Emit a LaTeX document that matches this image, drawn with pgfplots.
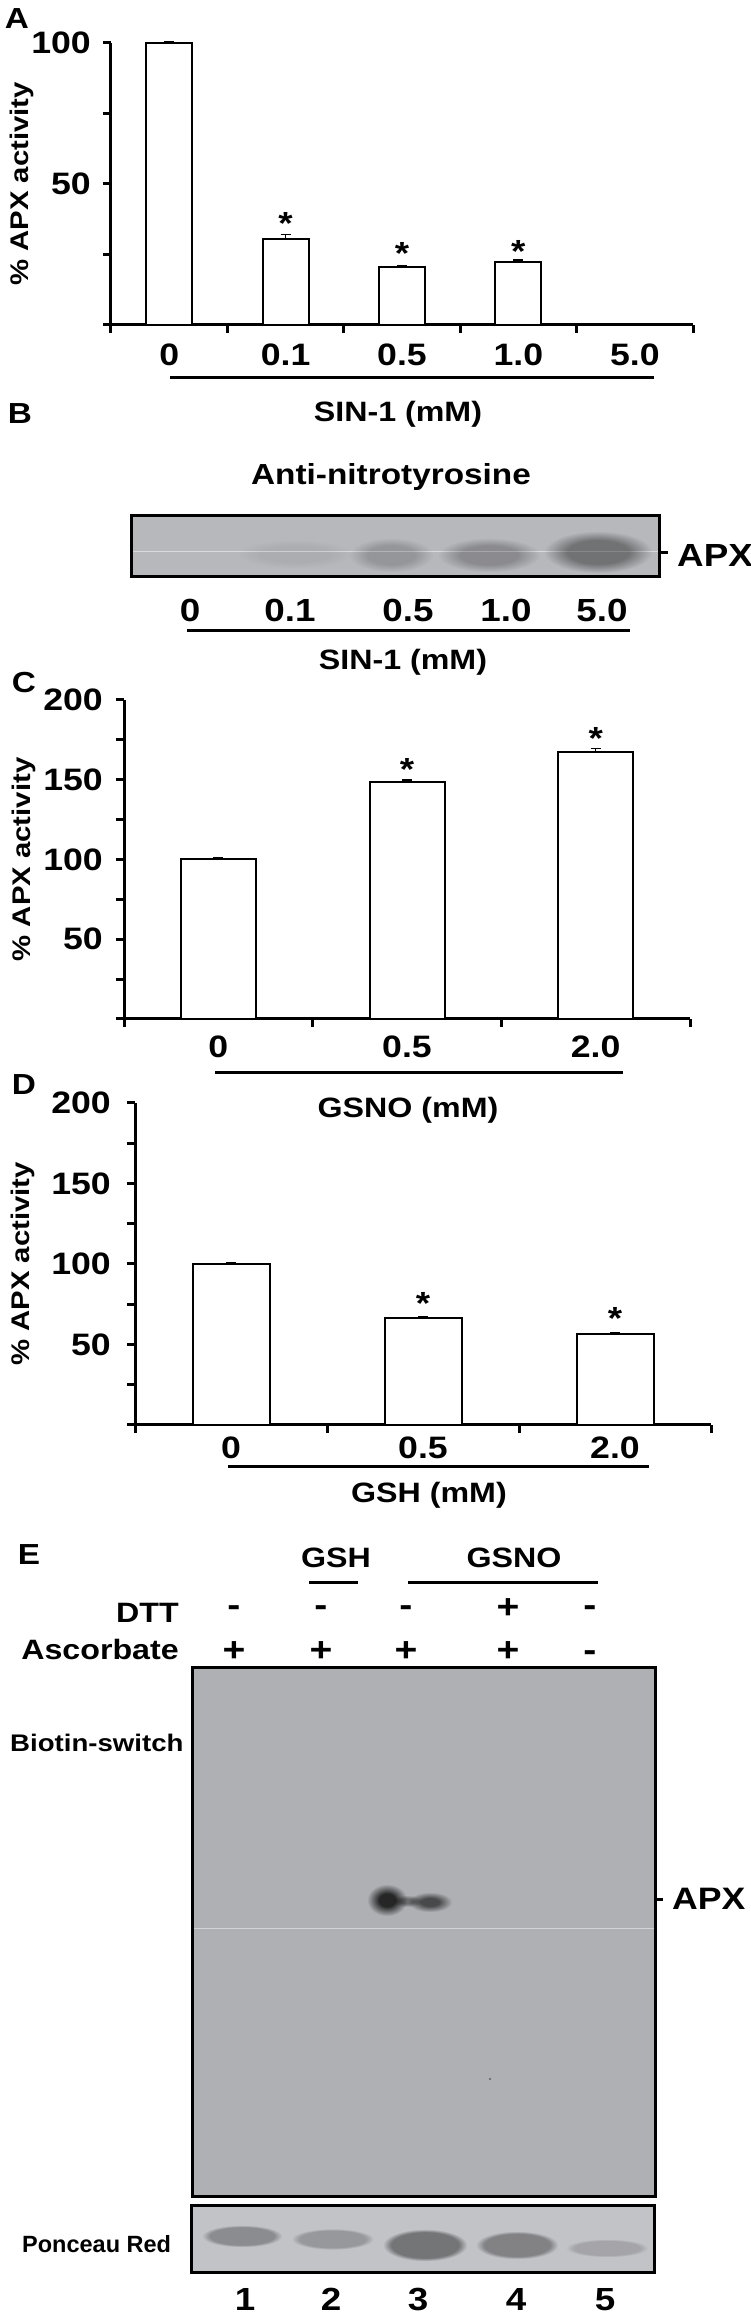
\documentclass[border=0pt]{standalone}
\usepackage{fontspec}
\setmainfont{Liberation Sans}
\newfontfamily\hfont{Liberation Sans}[FakeStretch=1.15]
\newfontfamily\nfont{Liberation Sans}
\usepackage{pgfplots}
\pgfplotsset{compat=1.18}

\newcommand\fs[1]{\fontsize{#1}{#1}\selectfont}
\newcommand\tf[1]{\hfont\bfseries\fs{#1}}

% blot greys
\definecolor{blotB}{RGB}{183,184,188}
\definecolor{blotE}{RGB}{175,176,180}
\definecolor{blotP}{RGB}{194,195,199}
% band darkness, as factors that multiply the blot grey
\definecolor{mB1}{gray}{0.94}
\definecolor{mB2}{gray}{0.82}
\definecolor{mB3}{gray}{0.76}
\definecolor{mB4}{gray}{0.62}
\definecolor{mE1}{gray}{0.22}
\definecolor{mE2}{gray}{0.42}
\definecolor{mE3}{gray}{0.62}
\definecolor{mP1}{gray}{0.72}
\definecolor{mP2}{gray}{0.78}
\definecolor{mP3}{gray}{0.60}
\definecolor{mP4}{gray}{0.67}
\definecolor{mP5}{gray}{0.85}

\pgfdeclareradialshading{sB1}{\pgfpointorigin}{color(0bp)=(mB1); color(28bp)=(mB1); color(50bp)=(white)}
\pgfdeclareradialshading{sB2}{\pgfpointorigin}{color(0bp)=(mB2); color(28bp)=(mB2); color(50bp)=(white)}
\pgfdeclareradialshading{sB3}{\pgfpointorigin}{color(0bp)=(mB3); color(28bp)=(mB3); color(50bp)=(white)}
\pgfdeclareradialshading{sB4}{\pgfpointorigin}{color(0bp)=(mB4); color(28bp)=(mB4); color(50bp)=(white)}
\pgfdeclareradialshading{sE1}{\pgfpointorigin}{color(0bp)=(mE1); color(20bp)=(mE1); color(50bp)=(white)}
\pgfdeclareradialshading{sE2}{\pgfpointorigin}{color(0bp)=(mE2); color(20bp)=(mE2); color(50bp)=(white)}
\pgfdeclareradialshading{sE3}{\pgfpointorigin}{color(0bp)=(mE3); color(20bp)=(mE3); color(50bp)=(white)}
\pgfdeclareradialshading{sP1}{\pgfpointorigin}{color(0bp)=(mP1); color(40bp)=(mP1); color(50bp)=(white)}
\pgfdeclareradialshading{sP2}{\pgfpointorigin}{color(0bp)=(mP2); color(40bp)=(mP2); color(50bp)=(white)}
\pgfdeclareradialshading{sP3}{\pgfpointorigin}{color(0bp)=(mP3); color(40bp)=(mP3); color(50bp)=(white)}
\pgfdeclareradialshading{sP4}{\pgfpointorigin}{color(0bp)=(mP4); color(40bp)=(mP4); color(50bp)=(white)}
\pgfdeclareradialshading{sP5}{\pgfpointorigin}{color(0bp)=(mP5); color(40bp)=(mP5); color(50bp)=(white)}
% each band is one mark, scaled in the plot and multiplied onto the blot
\newcommand\bandmark[1]{\pgfdeclareplotmark{#1}{\pgflowlevelsynccm\pgfsetblendmode{multiply}\pgfuseshading{#1}}}
\bandmark{sB1}\bandmark{sB2}\bandmark{sB3}\bandmark{sB4}
\bandmark{sE1}\bandmark{sE2}\bandmark{sE3}
\bandmark{sP1}\bandmark{sP2}\bandmark{sP3}\bandmark{sP4}\bandmark{sP5}

\pgfplotsset{
  bars/.style={
    scale only axis, anchor=south west, clip=false,
    axis lines*=left,
    axis line style={line width=3pt},
    tick align=outside, major tick length=8pt,
    tick style={black, line width=3pt},
    tick label style={font=\tf{31}, inner sep=0pt},
    yticklabel style={anchor=east},
    xticklabel style={anchor=north},
    xticklabels={},
    extra x tick style={major tick length=0pt},
    every axis y label/.style={rotate=90, anchor=center, font=\tf{25.5}},
  },
  barstyle/.style={ybar, fill=white, draw=black, line width=2pt,
    error bars/.cd, y dir=plus, y explicit,
    error bar style={line width=1.5pt, black},
    error mark options={rotate=90, mark size=5pt, line width=1.5pt, black}},
  blot/.style={scale only axis, anchor=south west, axis on top,
    axis line style={line width=3pt}, xtick=\empty, ytick=\empty, xmin=0, ymin=0},
  band/.style n args={3}{only marks, mark=#1, mark options={xscale=#2, yscale=#3}},
}
\tikzset{star/.style={font=\tf{32}, anchor=base, yshift=-17.6pt}}

\begin{document}
\begin{tikzpicture}[every node/.style={inner sep=0pt}]
\useasboundingbox (0pt,0pt) rectangle (750pt,2315pt);

% panel letters
\node[font=\tf{29}, anchor=base] at (17pt,2286pt) {A};
\node[font=\tf{29}, anchor=base] at (20pt,1891pt) {B};
\node[font=\tf{29}, anchor=base] at (24pt,1622pt) {C};
\node[font=\tf{29}, anchor=base] at (24pt,1220pt) {D};
\node[font=\tf{29}, anchor=base] at (29pt,750pt) {E};

% ---------- A ----------
\begin{axis}[bars, at={(111pt,1990pt)}, width=582pt, height=282pt,
  xmin=-0.5, xmax=4.5, ymin=0, ymax=100,
  xtick={-0.5,0.5,...,4.5},
  extra x ticks={0,1,2,3,4}, extra x tick labels={0,0.1,0.5,1.0,5.0},
  xticklabel style={yshift=-19pt},
  yticklabel style={xshift=-12pt},
  ytick={0,25,50,75,100}, yticklabels={,,50,,100},
  bar width=46pt,
  ylabel={\% APX activity},
  every axis y label/.append style={at={(axis description cs:-0.153,0.5)}},
]
\addplot[barstyle] coordinates {(0,100) +- (0,0.3) (1,30.5) +- (0,1.5) (2,20.4) +- (0,0.7) (3,22.2) +- (0,0.8)};
\node[star] at (axis cs:1,38.3) {*};
\node[star] at (axis cs:2,27.7) {*};
\node[star] at (axis cs:3,28.4) {*};
\end{axis}
\draw[line width=3pt] (170pt,1937pt) -- (654pt,1937pt);
\node[font=\tf{28}, anchor=base] at (398pt,1893pt) {SIN-1 (mM)};

% ---------- B ----------
\node[font=\tf{29}, anchor=base] at (391pt,1830pt) {Anti-nitrotyrosine};
\begin{axis}[blot, at={(131pt,1738pt)}, width=528pt, height=61pt, xmax=528, ymax=61,
  axis background/.style={fill=blotB}]
\addplot[color=white!50!blotB, line width=0.8pt] coordinates {(0,26) (528,26)};
\addplot[band={sB1}{1.16}{0.28}] coordinates {(164,23)};
\addplot[band={sB2}{0.84}{0.34}] coordinates {(260,22)};
\addplot[band={sB3}{1.02}{0.34}] coordinates {(358,22)};
\addplot[band={sB4}{1.08}{0.42}] coordinates {(467,25)};
\end{axis}
\draw[line width=3pt] (659pt,1762pt) -- (668pt,1762pt);
\node[font=\tf{32}, anchor=base west] at (677pt,1748pt) {APX};
\foreach \xx/\tt in {190/0,290/0.1,408/0.5,506/1.0,602/5.0}
  \node[font=\tf{32}, anchor=base] at (\xx pt,1693pt) {\tt};
\draw[line width=3pt] (187pt,1684pt) -- (630pt,1684pt);
\node[font=\tf{28}, anchor=base] at (403pt,1645pt) {SIN-1 (mM)};

% ---------- C ----------
\begin{axis}[bars, at={(124pt,1296pt)}, width=566pt, height=319pt,
  xmin=-0.5, xmax=2.5, ymin=0, ymax=200,
  xtick={-0.5,0.5,1.5,2.5},
  extra x ticks={0,1,2}, extra x tick labels={0,0.5,2.0},
  xticklabel style={yshift=-17pt},
  yticklabel style={xshift=-13pt},
  ytick={0,25,...,200}, yticklabels={,,50,,100,,150,,200},
  bar width=75pt,
  ylabel={\% APX activity},
  every axis y label/.append style={at={(axis description cs:-0.177,0.5)}},
]
\addplot[barstyle] coordinates {(0,100) +- (0,1) (1,148.5) +- (0,1.2) (2,167.3) +- (0,2.3)};
\node[star] at (axis cs:1,160.5) {*};
\node[star] at (axis cs:2,180) {*};
\end{axis}
\draw[line width=3pt] (215pt,1242pt) -- (623pt,1242pt);
\node[font=\tf{28}, anchor=base] at (408pt,1197pt) {GSNO (mM)};

% ---------- D ----------
\begin{axis}[bars, at={(135pt,890pt)}, width=576pt, height=322pt,
  xmin=-0.5, xmax=2.5, ymin=0, ymax=200,
  xtick={-0.5,0.5,1.5,2.5},
  extra x ticks={0,1,2}, extra x tick labels={0,0.5,2.0},
  xticklabel style={yshift=-12pt},
  yticklabel style={xshift=-16pt},
  ytick={0,25,...,200}, yticklabels={,,50,,100,,150,,200},
  bar width=77pt,
  ylabel={\% APX activity},
  every axis y label/.append style={at={(axis description cs:-0.194,0.5)}},
]
\addplot[barstyle] coordinates {(0,100) +- (0,0.8) (1,66.2) +- (0,1.1) (2,56.3) +- (0,1.1)};
\node[star] at (axis cs:1,79.5) {*};
\node[star] at (axis cs:2,70.2) {*};
\end{axis}
\draw[line width=3pt] (228pt,848pt) -- (649pt,848pt);
\node[font=\tf{28}, anchor=base] at (429pt,812pt) {GSH (mM)};

% ---------- E ----------
\node[font=\tf{28}, anchor=base] at (336pt,747pt) {GSH};
\node[font=\tf{28}, anchor=base] at (514pt,747pt) {GSNO};
\draw[line width=3pt] (309pt,732pt) -- (358pt,732pt);
\draw[line width=3pt] (408pt,732pt) -- (598pt,732pt);
\node[font=\tf{28}, anchor=base east] at (179pt,692pt) {DTT};
\node[font=\tf{28}, anchor=base east] at (179pt,655pt) {Ascorbate};
\foreach \xx/\ss/\yy in {234/-/698,321/-/698,406/-/698,508/+/696,590/-/698}
  \node[font=\tf{34}, anchor=base] at (\xx pt,\yy pt) {\ss};
\foreach \xx/\ss/\yy in {234/+/653,321/+/653,406/+/653,508/+/653,590/-/653}
  \node[font=\tf{34}, anchor=base] at (\xx pt,\yy pt) {\ss};
\node[font=\tf{24}, anchor=base west] at (10pt,563pt) {Biotin-switch};
\begin{axis}[blot, at={(192pt,118pt)}, width=463pt, height=529pt, xmax=463, ymax=529,
  axis background/.style={fill=blotE}]
\addplot[color=white!45!blotE, line width=0.8pt] coordinates {(0,269) (463,269)};
\addplot[only marks, mark=*, mark size=0.9pt, color=gray!80!black] coordinates {(298,118)};
\addplot[band={sE3}{0.30}{0.12}] coordinates {(215,296)};
\addplot[band={sE2}{0.44}{0.20}] coordinates {(238,295)};
\addplot[band={sE1}{0.40}{0.32}] coordinates {(195,297)};
\end{axis}
\draw[line width=3pt] (655pt,415pt) -- (663pt,415pt);
\node[font=\tf{31}, anchor=base west] at (672pt,405pt) {APX};
\node[font=\nfont\bfseries\fs{23.5}, anchor=base west] at (22pt,62pt) {Ponceau Red};
\begin{axis}[blot, at={(191pt,43pt)}, width=463pt, height=66pt, xmax=463, ymax=66,
  axis background/.style={fill=blotP}]
\addplot[band={sP1}{0.80}{0.22}] coordinates {(51,36)};
\addplot[band={sP2}{0.82}{0.21}] coordinates {(141.5,33)};
\addplot[band={sP3}{0.84}{0.32}] coordinates {(234,27)};
\addplot[band={sP4}{0.82}{0.28}] coordinates {(326,27)};
\addplot[band={sP5}{0.82}{0.18}] coordinates {(416,24)};
\end{axis}
\foreach \xx/\tt in {245/1,331/2,418/3,516/4,605/5}
  \node[font=\tf{32}, anchor=base] at (\xx pt,5pt) {\tt};
\end{tikzpicture}
\end{document}
